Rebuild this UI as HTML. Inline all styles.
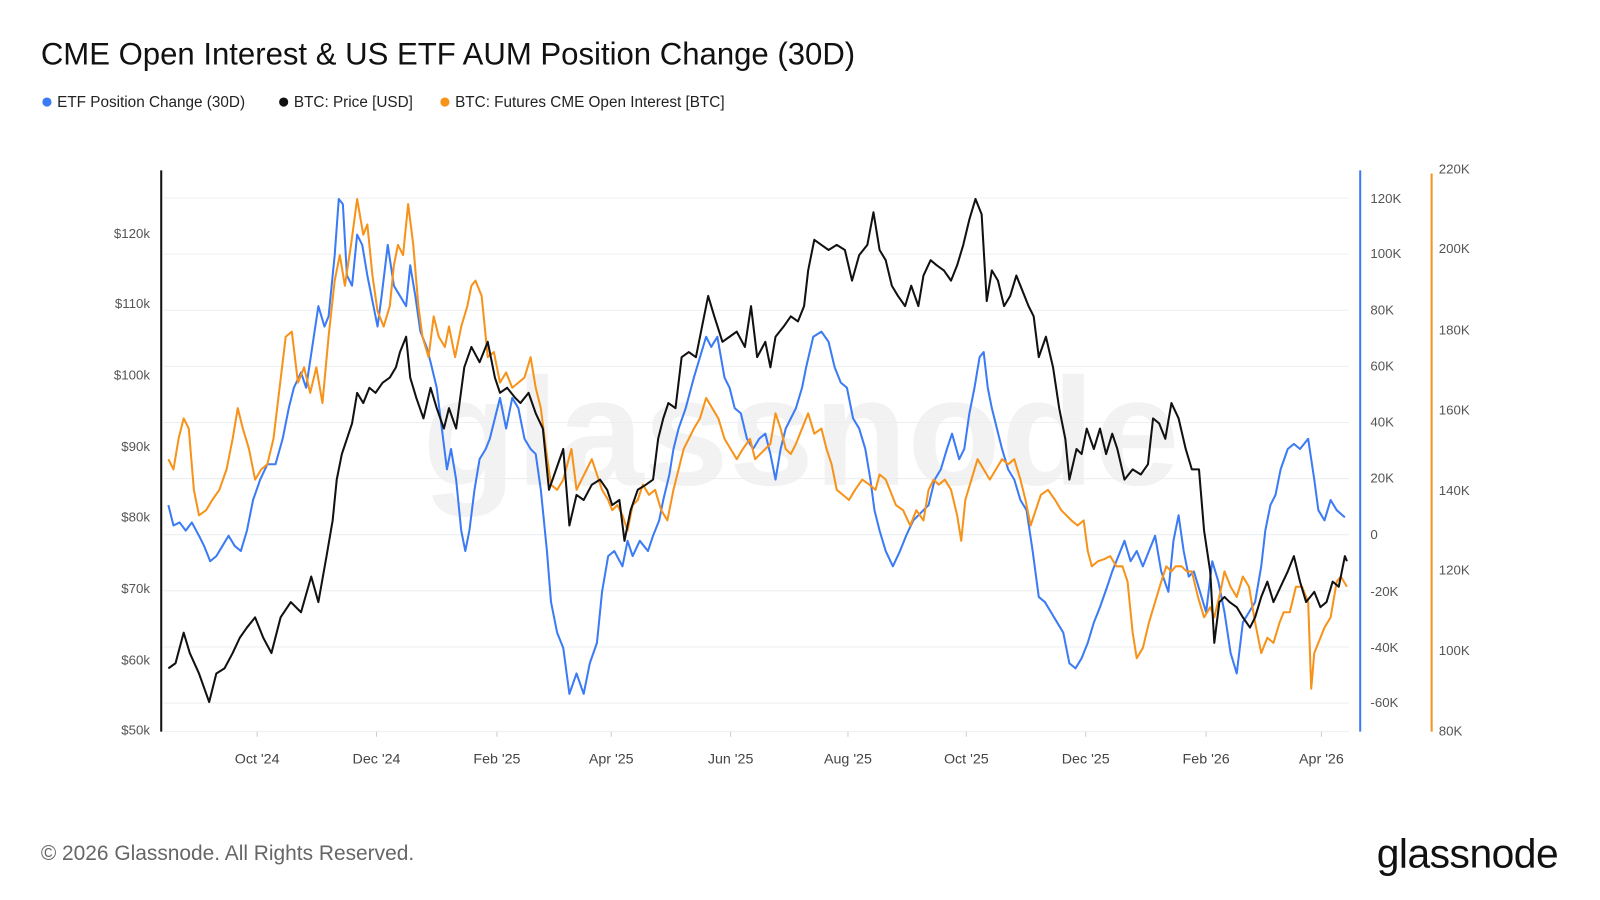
<!DOCTYPE html>
<html><head><meta charset="utf-8"><style>
html,body{margin:0;padding:0;background:#fff;}
svg{display:block;font-family:"Liberation Sans",sans-serif;}
</style></head><body>
<svg width="1600" height="900" viewBox="0 0 1568 882" xmlns="http://www.w3.org/2000/svg">
<rect width="1568" height="882" fill="#fff"/>
<text x="40" y="63" font-size="30.5" fill="#111">CME Open Interest &amp; US ETF AUM Position Change (30D)</text>
<g font-size="15" fill="#222">
<circle cx="46" cy="100" r="4.5" fill="#3b7bf6"/><text x="56" y="105">ETF Position Change (30D)</text>
<circle cx="278" cy="100" r="4.5" fill="#111"/><text x="288" y="105">BTC: Price [USD]</text>
<circle cx="436" cy="100" r="4.5" fill="#f7931a"/><text x="446" y="105">BTC: Futures CME Open Interest [BTC]</text>
</g>
<text x="785" y="475" font-size="150" font-weight="bold" fill="#f2f2f2" text-anchor="middle">glassnode</text>
<g stroke="#eceff2" stroke-width="1">
<line x1="160" y1="194" x2="1322" y2="194"/><line x1="160" y1="249" x2="1322" y2="249"/>
<line x1="160" y1="304" x2="1322" y2="304"/><line x1="160" y1="359" x2="1322" y2="359"/>
<line x1="160" y1="414" x2="1322" y2="414"/><line x1="160" y1="469" x2="1322" y2="469"/>
<line x1="160" y1="524" x2="1322" y2="524"/><line x1="160" y1="579" x2="1322" y2="579"/>
<line x1="160" y1="634" x2="1322" y2="634"/><line x1="160" y1="689" x2="1322" y2="689"/>
<line x1="160" y1="717" x2="1322" y2="717"/>
</g>
<g stroke="#ccc"><line x1="252" y1="717" x2="252" y2="722"/><line x1="369" y1="717" x2="369" y2="722"/><line x1="487" y1="717" x2="487" y2="722"/><line x1="599" y1="717" x2="599" y2="722"/><line x1="716" y1="717" x2="716" y2="722"/><line x1="831" y1="717" x2="831" y2="722"/><line x1="947" y1="717" x2="947" y2="722"/><line x1="1064" y1="717" x2="1064" y2="722"/><line x1="1182" y1="717" x2="1182" y2="722"/><line x1="1295" y1="717" x2="1295" y2="722"/></g>
<line x1="158" y1="167" x2="158" y2="717" stroke="#111" stroke-width="2"/>
<line x1="1333" y1="167" x2="1333" y2="717" stroke="#3b7bf6" stroke-width="2"/>
<line x1="1403" y1="170" x2="1403" y2="717" stroke="#f7931a" stroke-width="2"/>
<g font-size="13" fill="#555" text-anchor="end">
<text x="147" y="233">$120k</text><text x="147" y="302">$110k</text><text x="147" y="372">$100k</text><text x="147" y="442">$90k</text><text x="147" y="511">$80k</text><text x="147" y="581">$70k</text><text x="147" y="651">$60k</text><text x="147" y="720">$50k</text>
</g>
<g font-size="13" fill="#555">
<text x="1343" y="199">120K</text><text x="1343" y="253">100K</text><text x="1343" y="308">80K</text><text x="1343" y="363">60K</text><text x="1343" y="418">40K</text><text x="1343" y="473">20K</text><text x="1343" y="528">0</text><text x="1343" y="584">-20K</text><text x="1343" y="639">-40K</text><text x="1343" y="693">-60K</text>
<text x="1410" y="170">220K</text><text x="1410" y="248">200K</text><text x="1410" y="328">180K</text><text x="1410" y="406">160K</text><text x="1410" y="485">140K</text><text x="1410" y="563">120K</text><text x="1410" y="642">100K</text><text x="1410" y="721">80K</text>
</g>
<g font-size="14" fill="#444" text-anchor="middle">
<text x="252" y="748">Oct '24</text><text x="369" y="748">Dec '24</text><text x="487" y="748">Feb '25</text><text x="599" y="748">Apr '25</text><text x="716" y="748">Jun '25</text><text x="831" y="748">Aug '25</text><text x="947" y="748">Oct '25</text><text x="1064" y="748">Dec '25</text><text x="1182" y="748">Feb '26</text><text x="1295" y="748">Apr '26</text>
</g>
<g fill="none" stroke-width="2" stroke-linejoin="round">
<polyline stroke="#3b7bf6" points="165,495 170,515 176,512 182,520 188,512 195,525 200,535 206,550 212,545 218,535 224,525 230,535 236,540 242,520 248,490 255,470 262,455 270,455 277,430 283,400 288,380 295,365 300,380 306,340 312,300 318,320 322,310 328,250 332,195 336,200 340,270 345,280 350,230 355,240 360,270 366,300 370,320 374,290 380,240 386,280 392,290 398,300 402,260 407,290 412,325 418,340 422,355 428,380 433,420 438,460 442,440 447,470 452,520 456,540 460,520 465,480 470,450 476,440 480,430 485,410 490,390 496,420 502,390 508,400 514,430 520,440 525,445 530,480 536,540 540,590 546,620 552,635 558,680 565,660 572,680 578,650 585,630 590,580 596,545 602,540 610,555 615,530 620,545 627,530 635,540 640,525 646,510 650,490 656,465 660,440 665,420 672,400 680,370 686,350 692,330 697,340 703,330 710,370 715,380 720,400 726,405 732,430 738,440 744,430 750,425 755,445 760,470 765,440 770,420 775,410 780,400 786,380 790,360 797,330 805,325 812,335 818,360 824,375 830,380 836,410 842,420 848,440 853,470 857,500 862,520 868,540 875,555 882,540 888,525 895,510 900,505 905,500 910,495 916,470 922,460 928,440 933,425 940,450 945,440 950,405 955,380 960,350 964,345 968,380 972,400 977,420 982,440 988,460 994,470 1000,490 1006,500 1012,540 1018,585 1024,590 1030,600 1036,610 1042,620 1048,650 1054,655 1060,645 1066,630 1072,610 1078,595 1085,575 1090,560 1096,545 1102,530 1108,550 1114,540 1120,555 1126,540 1132,525 1138,560 1145,580 1150,530 1155,505 1160,540 1165,565 1170,560 1176,580 1182,600 1188,550 1194,570 1200,600 1206,640 1212,660 1218,610 1224,600 1230,590 1236,555 1240,520 1245,495 1250,485 1255,460 1262,440 1268,435 1274,440 1282,430 1288,470 1292,500 1298,510 1304,490 1310,500 1318,507"/>
<polyline stroke="#f7931a" points="165,450 170,460 175,430 180,410 185,420 190,480 195,505 202,500 208,490 215,480 222,460 228,430 233,400 238,420 244,440 250,470 256,460 262,455 268,430 274,380 280,330 286,325 292,375 298,360 304,385 310,360 316,395 322,330 328,275 333,250 338,280 344,240 350,195 356,230 360,220 365,270 370,305 376,320 382,300 386,260 390,240 395,250 400,200 405,240 410,300 414,330 420,350 425,310 430,330 436,340 440,320 446,350 452,320 458,300 462,280 466,275 472,290 478,350 484,345 490,375 496,365 502,380 508,375 514,370 520,350 525,380 530,400 535,440 540,475 546,480 552,470 556,455 560,440 565,480 570,470 575,460 580,450 585,465 590,480 596,490 600,500 605,495 610,505 615,520 620,495 625,490 630,475 636,485 642,480 648,500 654,510 660,480 665,460 670,440 675,430 680,420 686,410 692,390 698,400 704,410 710,430 716,440 722,450 728,440 735,430 740,450 745,445 750,440 755,435 760,405 765,420 770,440 775,445 780,435 786,420 792,405 798,425 805,420 810,440 815,455 820,480 826,485 832,490 838,480 845,470 852,475 858,480 862,465 868,470 872,480 878,495 885,500 892,515 898,500 905,510 910,480 915,470 920,475 926,470 932,480 938,505 942,530 946,490 952,470 958,450 964,460 970,470 976,460 982,450 988,455 994,450 1000,470 1005,490 1010,515 1015,500 1020,485 1027,480 1034,490 1040,500 1045,505 1050,510 1056,515 1062,510 1066,540 1070,555 1076,550 1082,548 1088,545 1094,555 1100,555 1105,570 1110,620 1114,645 1120,635 1126,610 1132,590 1138,570 1143,555 1148,560 1152,555 1158,555 1163,560 1168,560 1174,585 1180,605 1186,595 1190,605 1196,580 1200,560 1206,575 1212,585 1218,565 1224,575 1230,610 1236,640 1242,625 1248,630 1254,610 1258,600 1264,600 1270,575 1276,575 1282,590 1285,675 1288,640 1292,630 1298,615 1304,605 1310,570 1314,565 1320,575"/>
<polyline stroke="#111" points="165,655 172,650 180,620 186,640 195,660 205,688 212,660 220,655 228,640 235,625 242,615 250,605 258,625 266,640 275,605 285,590 295,600 305,565 312,590 320,545 326,510 330,470 335,445 340,430 345,415 350,385 356,395 362,380 368,385 375,375 382,370 388,360 392,345 398,330 402,370 408,390 415,410 422,380 428,400 435,420 440,400 447,420 455,360 462,340 470,355 478,335 485,370 490,385 497,380 505,390 510,395 518,385 525,405 532,420 538,480 545,460 552,440 558,515 565,485 572,490 580,475 588,470 595,480 600,495 607,490 612,530 618,500 625,480 633,475 640,470 645,430 650,410 655,395 662,400 668,350 675,345 682,350 688,320 694,290 700,310 708,335 715,330 722,325 730,340 736,300 742,350 750,335 755,360 760,330 768,320 775,310 782,315 788,300 792,265 798,235 805,240 812,245 820,240 828,245 835,275 842,250 850,240 856,208 862,245 868,255 874,280 880,290 887,300 893,280 900,300 905,270 912,255 918,260 925,265 932,275 938,260 944,240 950,215 956,195 962,210 967,295 972,265 978,275 984,300 990,290 996,270 1002,285 1008,300 1013,310 1018,350 1025,330 1032,360 1038,400 1044,430 1048,470 1055,440 1060,445 1065,420 1072,440 1078,420 1084,445 1090,425 1095,440 1102,470 1110,460 1118,465 1125,455 1130,410 1136,415 1142,430 1148,395 1155,410 1162,440 1168,460 1175,460 1180,520 1186,560 1190,630 1195,590 1200,585 1205,590 1212,595 1218,605 1225,615 1230,605 1236,585 1242,570 1248,590 1255,575 1262,560 1268,545 1274,570 1280,590 1288,580 1294,595 1300,590 1306,570 1312,575 1318,545 1320,550"/>
</g>
<text x="40" y="843" font-size="20.5" fill="#666">© 2026 Glassnode. All Rights Reserved.</text>
<text x="1527" y="850" font-size="40" fill="#111" text-anchor="end" letter-spacing="-0.5">glassnode</text>
</svg>
</body></html>
